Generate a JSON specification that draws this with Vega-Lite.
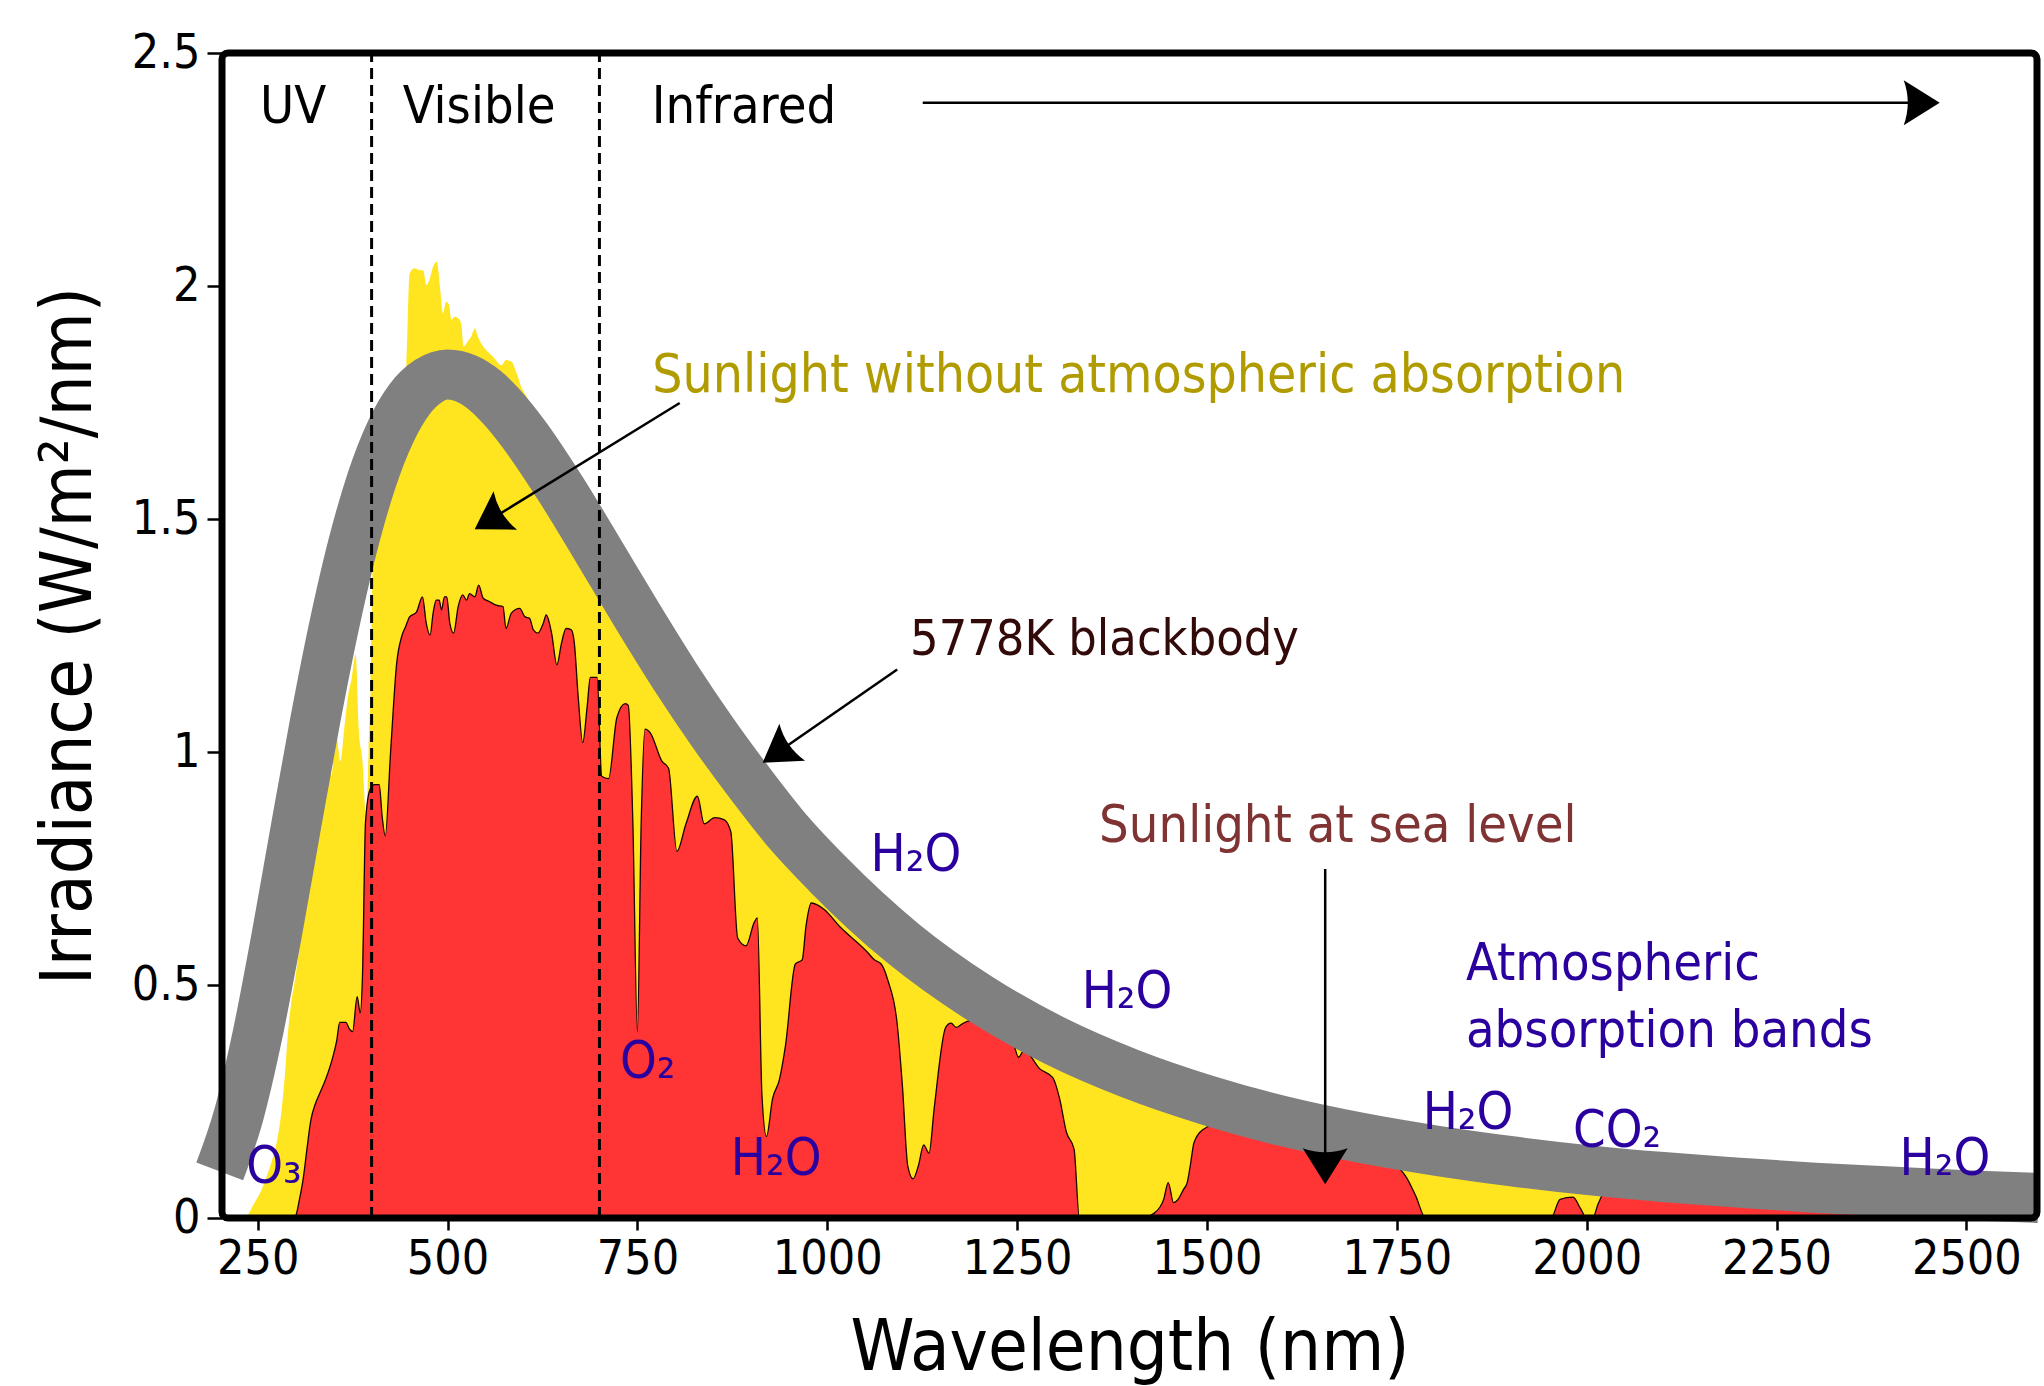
{
  "$schema": "https://vega.github.io/schema/vega-lite/v6.json",
  "width": 1815,
  "height": 1165,
  "autosize": "none",
  "padding": {"left": 222, "top": 53, "right": 7, "bottom": 168},
  "background": "white",
  "config": {"view": {"stroke": null}, "font": "DejaVu Sans Condensed"},
  "datasets": {
    "toa": [
      {"wavelength": 235, "irradiance": 0}, {"wavelength": 245, "irradiance": 0.03}, {"wavelength": 255, "irradiance": 0.06},
      {"wavelength": 262, "irradiance": 0.09}, {"wavelength": 270, "irradiance": 0.13}, {"wavelength": 276, "irradiance": 0.17},
      {"wavelength": 281, "irradiance": 0.225}, {"wavelength": 286, "irradiance": 0.31}, {"wavelength": 290, "irradiance": 0.4},
      {"wavelength": 294, "irradiance": 0.46}, {"wavelength": 299, "irradiance": 0.51}, {"wavelength": 305, "irradiance": 0.58},
      {"wavelength": 312, "irradiance": 0.66}, {"wavelength": 318, "irradiance": 0.72}, {"wavelength": 324, "irradiance": 0.78},
      {"wavelength": 330, "irradiance": 0.97}, {"wavelength": 335, "irradiance": 0.92}, {"wavelength": 341, "irradiance": 1.0},
      {"wavelength": 347, "irradiance": 0.95}, {"wavelength": 353, "irradiance": 1.04}, {"wavelength": 359, "irradiance": 0.98},
      {"wavelength": 364, "irradiance": 1.05}, {"wavelength": 369, "irradiance": 1.12}, {"wavelength": 374, "irradiance": 1.16},
      {"wavelength": 379, "irradiance": 1.21}, {"wavelength": 383, "irradiance": 1.05}, {"wavelength": 388, "irradiance": 0.98},
      {"wavelength": 393, "irradiance": 0.86}, {"wavelength": 396, "irradiance": 1.0}, {"wavelength": 399, "irradiance": 1.15},
      {"wavelength": 403, "irradiance": 1.52}, {"wavelength": 410, "irradiance": 1.68}, {"wavelength": 418, "irradiance": 1.73},
      {"wavelength": 425, "irradiance": 1.68}, {"wavelength": 431, "irradiance": 1.6}, {"wavelength": 437, "irradiance": 1.75},
      {"wavelength": 442, "irradiance": 1.8}, {"wavelength": 446, "irradiance": 1.834}, {"wavelength": 450, "irradiance": 2.027},
      {"wavelength": 457, "irradiance": 2.038}, {"wavelength": 463, "irradiance": 2.034}, {"wavelength": 468, "irradiance": 2.034},
      {"wavelength": 472, "irradiance": 2.002}, {"wavelength": 476, "irradiance": 2.013}, {"wavelength": 481, "irradiance": 2.042},
      {"wavelength": 486, "irradiance": 2.052}, {"wavelength": 490, "irradiance": 1.999}, {"wavelength": 494, "irradiance": 1.941},
      {"wavelength": 498, "irradiance": 1.966}, {"wavelength": 502, "irradiance": 1.959}, {"wavelength": 505, "irradiance": 1.927},
      {"wavelength": 509, "irradiance": 1.934}, {"wavelength": 514, "irradiance": 1.931}, {"wavelength": 518, "irradiance": 1.92},
      {"wavelength": 521, "irradiance": 1.87}, {"wavelength": 526, "irradiance": 1.88}, {"wavelength": 531, "irradiance": 1.891},
      {"wavelength": 536, "irradiance": 1.909}, {"wavelength": 540, "irradiance": 1.891}, {"wavelength": 547, "irradiance": 1.87},
      {"wavelength": 553, "irradiance": 1.859}, {"wavelength": 560, "irradiance": 1.848}, {"wavelength": 571, "irradiance": 1.83},
      {"wavelength": 577, "irradiance": 1.841}, {"wavelength": 584, "irradiance": 1.838}, {"wavelength": 591, "irradiance": 1.813},
      {"wavelength": 597, "irradiance": 1.784}, {"wavelength": 604, "irradiance": 1.763}, {"wavelength": 625, "irradiance": 1.68},
      {"wavelength": 650, "irradiance": 1.58}, {"wavelength": 675, "irradiance": 1.5}, {"wavelength": 700, "irradiance": 1.42},
      {"wavelength": 725, "irradiance": 1.35}, {"wavelength": 750, "irradiance": 1.28}, {"wavelength": 800, "irradiance": 1.14},
      {"wavelength": 850, "irradiance": 1.02}, {"wavelength": 900, "irradiance": 0.91}, {"wavelength": 950, "irradiance": 0.82},
      {"wavelength": 1000, "irradiance": 0.74}, {"wavelength": 1050, "irradiance": 0.66}, {"wavelength": 1100, "irradiance": 0.6},
      {"wavelength": 1200, "irradiance": 0.48}, {"wavelength": 1300, "irradiance": 0.39}, {"wavelength": 1400, "irradiance": 0.32},
      {"wavelength": 1500, "irradiance": 0.26}, {"wavelength": 1600, "irradiance": 0.21}, {"wavelength": 1700, "irradiance": 0.175},
      {"wavelength": 1800, "irradiance": 0.145}, {"wavelength": 1900, "irradiance": 0.122}, {"wavelength": 2000, "irradiance": 0.104},
      {"wavelength": 2100, "irradiance": 0.088}, {"wavelength": 2200, "irradiance": 0.075}, {"wavelength": 2300, "irradiance": 0.065},
      {"wavelength": 2400, "irradiance": 0.057}, {"wavelength": 2500, "irradiance": 0.049}, {"wavelength": 2593, "irradiance": 0.044}
    ],
    "sea": [
      {"wavelength": 295, "irradiance": 0}, {"wavelength": 300, "irradiance": 0.005}, {"wavelength": 305, "irradiance": 0.04},
      {"wavelength": 310, "irradiance": 0.085}, {"wavelength": 315, "irradiance": 0.15}, {"wavelength": 320, "irradiance": 0.21},
      {"wavelength": 326, "irradiance": 0.245}, {"wavelength": 331, "irradiance": 0.265}, {"wavelength": 340, "irradiance": 0.3},
      {"wavelength": 348, "irradiance": 0.34}, {"wavelength": 354, "irradiance": 0.38}, {"wavelength": 358, "irradiance": 0.42},
      {"wavelength": 366, "irradiance": 0.42}, {"wavelength": 371, "irradiance": 0.405}, {"wavelength": 375, "irradiance": 0.4},
      {"wavelength": 381, "irradiance": 0.475}, {"wavelength": 385, "irradiance": 0.44}, {"wavelength": 388, "irradiance": 0.52},
      {"wavelength": 392, "irradiance": 0.85}, {"wavelength": 398, "irradiance": 0.92}, {"wavelength": 404, "irradiance": 0.93},
      {"wavelength": 410, "irradiance": 0.93}, {"wavelength": 414, "irradiance": 0.86}, {"wavelength": 418, "irradiance": 0.82},
      {"wavelength": 425, "irradiance": 1.0}, {"wavelength": 433, "irradiance": 1.19}, {"wavelength": 440, "irradiance": 1.25},
      {"wavelength": 445, "irradiance": 1.27}, {"wavelength": 450, "irradiance": 1.29}, {"wavelength": 459, "irradiance": 1.3},
      {"wavelength": 467, "irradiance": 1.333}, {"wavelength": 472, "irradiance": 1.276}, {"wavelength": 477, "irradiance": 1.251},
      {"wavelength": 481, "irradiance": 1.298}, {"wavelength": 485, "irradiance": 1.326}, {"wavelength": 489, "irradiance": 1.326},
      {"wavelength": 492, "irradiance": 1.305}, {"wavelength": 496, "irradiance": 1.333}, {"wavelength": 499, "irradiance": 1.333},
      {"wavelength": 503, "irradiance": 1.276}, {"wavelength": 508, "irradiance": 1.255}, {"wavelength": 514, "irradiance": 1.312},
      {"wavelength": 520, "irradiance": 1.337}, {"wavelength": 525, "irradiance": 1.326}, {"wavelength": 529, "irradiance": 1.34},
      {"wavelength": 536, "irradiance": 1.333}, {"wavelength": 541, "irradiance": 1.358}, {"wavelength": 547, "irradiance": 1.33},
      {"wavelength": 555, "irradiance": 1.323}, {"wavelength": 564, "irradiance": 1.315}, {"wavelength": 573, "irradiance": 1.312},
      {"wavelength": 577, "irradiance": 1.265}, {"wavelength": 584, "irradiance": 1.298}, {"wavelength": 595, "irradiance": 1.308},
      {"wavelength": 602, "irradiance": 1.29}, {"wavelength": 608, "irradiance": 1.287}, {"wavelength": 613, "irradiance": 1.262},
      {"wavelength": 619, "irradiance": 1.255}, {"wavelength": 626, "irradiance": 1.276}, {"wavelength": 630, "irradiance": 1.294},
      {"wavelength": 637, "irradiance": 1.255}, {"wavelength": 644, "irradiance": 1.187}, {"wavelength": 650, "irradiance": 1.233},
      {"wavelength": 656, "irradiance": 1.265}, {"wavelength": 663, "irradiance": 1.262}, {"wavelength": 667, "irradiance": 1.233},
      {"wavelength": 672, "irradiance": 1.119}, {"wavelength": 678, "irradiance": 1.02}, {"wavelength": 684, "irradiance": 1.1},
      {"wavelength": 688, "irradiance": 1.16}, {"wavelength": 697, "irradiance": 1.16}, {"wavelength": 703, "irradiance": 0.948},
      {"wavelength": 712, "irradiance": 0.943}, {"wavelength": 723, "irradiance": 1.074}, {"wavelength": 734, "irradiance": 1.104},
      {"wavelength": 738, "irradiance": 1.1}, {"wavelength": 744, "irradiance": 0.85}, {"wavelength": 750, "irradiance": 0.4},
      {"wavelength": 755, "irradiance": 0.85}, {"wavelength": 760, "irradiance": 1.049}, {"wavelength": 767, "irradiance": 1.041},
      {"wavelength": 782, "irradiance": 0.981}, {"wavelength": 791, "irradiance": 0.965}, {"wavelength": 802, "irradiance": 0.787},
      {"wavelength": 814, "irradiance": 0.846}, {"wavelength": 829, "irradiance": 0.905}, {"wavelength": 838, "irradiance": 0.846},
      {"wavelength": 852, "irradiance": 0.859}, {"wavelength": 864, "irradiance": 0.855}, {"wavelength": 873, "irradiance": 0.829},
      {"wavelength": 882, "irradiance": 0.601}, {"wavelength": 893, "irradiance": 0.584}, {"wavelength": 904, "irradiance": 0.635},
      {"wavelength": 908, "irradiance": 0.644}, {"wavelength": 914, "irradiance": 0.264}, {"wavelength": 920, "irradiance": 0.175},
      {"wavelength": 928, "irradiance": 0.256}, {"wavelength": 937, "irradiance": 0.297}, {"wavelength": 945, "irradiance": 0.37},
      {"wavelength": 958, "irradiance": 0.545}, {"wavelength": 967, "irradiance": 0.554}, {"wavelength": 972, "irradiance": 0.626},
      {"wavelength": 979, "irradiance": 0.676}, {"wavelength": 996, "irradiance": 0.662}, {"wavelength": 1016, "irradiance": 0.626},
      {"wavelength": 1052, "irradiance": 0.572}, {"wavelength": 1062, "irradiance": 0.554}, {"wavelength": 1071, "irradiance": 0.545},
      {"wavelength": 1080, "irradiance": 0.509}, {"wavelength": 1092, "irradiance": 0.418}, {"wavelength": 1099, "irradiance": 0.283},
      {"wavelength": 1106, "irradiance": 0.112}, {"wavelength": 1113, "irradiance": 0.084}, {"wavelength": 1120, "irradiance": 0.112},
      {"wavelength": 1127, "irradiance": 0.157}, {"wavelength": 1134, "irradiance": 0.139}, {"wavelength": 1141, "irradiance": 0.238},
      {"wavelength": 1156, "irradiance": 0.409}, {"wavelength": 1163, "irradiance": 0.418}, {"wavelength": 1170, "irradiance": 0.409},
      {"wavelength": 1179, "irradiance": 0.418}, {"wavelength": 1200, "irradiance": 0.427}, {"wavelength": 1230, "irradiance": 0.4},
      {"wavelength": 1245, "irradiance": 0.375}, {"wavelength": 1252, "irradiance": 0.345}, {"wavelength": 1259, "irradiance": 0.36},
      {"wavelength": 1280, "irradiance": 0.32}, {"wavelength": 1297, "irradiance": 0.301}, {"wavelength": 1306, "irradiance": 0.256},
      {"wavelength": 1315, "irradiance": 0.184}, {"wavelength": 1325, "irradiance": 0.148}, {"wavelength": 1332, "irradiance": 0},
      {"wavelength": 1414, "irradiance": 0}, {"wavelength": 1431, "irradiance": 0.011}, {"wavelength": 1443, "irradiance": 0.04},
      {"wavelength": 1449, "irradiance": 0.076}, {"wavelength": 1456, "irradiance": 0.033}, {"wavelength": 1462, "irradiance": 0.04},
      {"wavelength": 1469, "irradiance": 0.061}, {"wavelength": 1474, "irradiance": 0.076}, {"wavelength": 1478, "irradiance": 0.112},
      {"wavelength": 1483, "irradiance": 0.162}, {"wavelength": 1495, "irradiance": 0.19}, {"wavelength": 1520, "irradiance": 0.205},
      {"wavelength": 1560, "irradiance": 0.21}, {"wavelength": 1600, "irradiance": 0.2}, {"wavelength": 1650, "irradiance": 0.18},
      {"wavelength": 1700, "irradiance": 0.16}, {"wavelength": 1740, "irradiance": 0.125}, {"wavelength": 1763, "irradiance": 0.086},
      {"wavelength": 1775, "irradiance": 0.047}, {"wavelength": 1788, "irradiance": 0}, {"wavelength": 1953, "irradiance": 0},
      {"wavelength": 1965, "irradiance": 0.04}, {"wavelength": 1982, "irradiance": 0.045}, {"wavelength": 1992, "irradiance": 0.02},
      {"wavelength": 2000, "irradiance": 0}, {"wavelength": 2008, "irradiance": 0}, {"wavelength": 2015, "irradiance": 0.03},
      {"wavelength": 2025, "irradiance": 0.06}, {"wavelength": 2050, "irradiance": 0.075}, {"wavelength": 2100, "irradiance": 0.078},
      {"wavelength": 2200, "irradiance": 0.07}, {"wavelength": 2300, "irradiance": 0.06}, {"wavelength": 2350, "irradiance": 0.045},
      {"wavelength": 2400, "irradiance": 0.03}, {"wavelength": 2450, "irradiance": 0.015}, {"wavelength": 2500, "irradiance": 0},
      {"wavelength": 2593, "irradiance": 0}
    ],
    "blackbody": [
      {"wavelength": 200, "irradiance": 0.1}, {"wavelength": 225, "irradiance": 0.221}, {"wavelength": 250, "irradiance": 0.395},
      {"wavelength": 275, "irradiance": 0.607}, {"wavelength": 300, "irradiance": 0.836}, {"wavelength": 325, "irradiance": 1.061},
      {"wavelength": 350, "irradiance": 1.266}, {"wavelength": 375, "irradiance": 1.442}, {"wavelength": 400, "irradiance": 1.583},
      {"wavelength": 425, "irradiance": 1.687}, {"wavelength": 450, "irradiance": 1.757}, {"wavelength": 475, "irradiance": 1.796},
      {"wavelength": 500, "irradiance": 1.81}, {"wavelength": 525, "irradiance": 1.801}, {"wavelength": 550, "irradiance": 1.775},
      {"wavelength": 575, "irradiance": 1.734}, {"wavelength": 600, "irradiance": 1.683}, {"wavelength": 650, "irradiance": 1.562},
      {"wavelength": 700, "irradiance": 1.428}, {"wavelength": 750, "irradiance": 1.292}, {"wavelength": 800, "irradiance": 1.161},
      {"wavelength": 850, "irradiance": 1.04}, {"wavelength": 900, "irradiance": 0.929}, {"wavelength": 950, "irradiance": 0.826},
      {"wavelength": 1000, "irradiance": 0.739}, {"wavelength": 1100, "irradiance": 0.589}, {"wavelength": 1200, "irradiance": 0.472},
      {"wavelength": 1300, "irradiance": 0.38}, {"wavelength": 1400, "irradiance": 0.309}, {"wavelength": 1500, "irradiance": 0.253},
      {"wavelength": 1600, "irradiance": 0.208}, {"wavelength": 1700, "irradiance": 0.173}, {"wavelength": 1800, "irradiance": 0.145},
      {"wavelength": 1900, "irradiance": 0.122}, {"wavelength": 2000, "irradiance": 0.103}, {"wavelength": 2100, "irradiance": 0.088},
      {"wavelength": 2200, "irradiance": 0.076}, {"wavelength": 2300, "irradiance": 0.065}, {"wavelength": 2400, "irradiance": 0.057},
      {"wavelength": 2500, "irradiance": 0.049}, {"wavelength": 2595, "irradiance": 0.043}
    ],
    "bounds": [{"wavelength": 400}, {"wavelength": 700}],
    "regions": [
      {"text": "UV", "wavelength": 253, "irradiance": 2.35},
      {"text": "Visible", "wavelength": 441, "irradiance": 2.35},
      {"text": "Infrared", "wavelength": 769, "irradiance": 2.35}
    ],
    "absorbers": [
      {"text": "O₃", "wavelength": 235, "irradiance": 0.075},
      {"text": "O₂", "wavelength": 727, "irradiance": 0.3},
      {"text": "H₂O", "wavelength": 873, "irradiance": 0.093},
      {"text": "H₂O", "wavelength": 1057, "irradiance": 0.744},
      {"text": "H₂O", "wavelength": 1335, "irradiance": 0.451},
      {"text": "H₂O", "wavelength": 1784, "irradiance": 0.191},
      {"text": "CO₂", "wavelength": 1982, "irradiance": 0.153},
      {"text": "H₂O", "wavelength": 2412, "irradiance": 0.092},
      {"text": "Atmospheric", "wavelength": 1841, "irradiance": 0.511},
      {"text": "absorption bands", "wavelength": 1841, "irradiance": 0.368}
    ],
    "arrows": [
      {"target": "toa", "wavelength": 805.7, "irradiance": 1.749, "wavelength_end": 555.9, "irradiance_end": 1.498},
      {"target": "blackbody", "wavelength": 1092.1, "irradiance": 1.177, "wavelength_end": 934.4, "irradiance_end": 0.999},
      {"target": "sea", "wavelength": 1655.7, "irradiance": 0.749, "wavelength_end": 1655.7, "irradiance_end": 0.111},
      {"target": "infrared", "wavelength": 1125.7, "irradiance": 2.393, "wavelength_end": 2441.2, "irradiance_end": 2.393}
    ]
  },
  "layer": [
    {
      "data": {"name": "toa"},
      "mark": {"type": "area", "color": "#FFE51F", "interpolate": "monotone"},
      "encoding": {
        "x": {
          "field": "wavelength", "type": "quantitative",
          "scale": {"domain": [203, 2593], "nice": false, "zero": false},
          "axis": {
            "values": [250, 500, 750, 1000, 1250, 1500, 1750, 2000, 2250, 2500], "format": "d",
            "title": "Wavelength (nm)", "titleFont": "DejaVu Sans Condensed", "titleFontSize": 72, "titleFontWeight": "normal",
            "titleColor": "#000", "titlePadding": 29,
            "labelFont": "DejaVu Sans Condensed", "labelFontSize": 48, "labelColor": "#000", "labelPadding": 5,
            "labelFlush": false, "labelOverlap": false,
            "tickColor": "#000", "tickWidth": 2.5, "tickSize": 12, "domain": false, "grid": false
          }
        },
        "y": {
          "field": "irradiance", "type": "quantitative", "stack": null,
          "scale": {"domain": [0, 2.5], "nice": false},
          "axis": {
            "values": [0, 0.5, 1, 1.5, 2, 2.5], "format": "~g",
            "title": "Irradiance (W/m²/nm)", "titleFont": "DejaVu Sans Condensed", "titleFontSize": 72, "titleFontWeight": "normal",
            "titleColor": "#000", "titlePadding": 26,
            "labelFont": "DejaVu Sans Condensed", "labelFontSize": 48, "labelColor": "#000", "labelPadding": 7,
            "labelFlush": false, "labelOverlap": false,
            "tickColor": "#000", "tickWidth": 2.5, "tickSize": 15, "domain": false, "grid": false
          }
        }
      }
    },
    {
      "data": {"name": "sea"},
      "mark": {"type": "area", "color": "#FF3535", "stroke": "#1a0000", "strokeWidth": 1.3, "interpolate": "monotone"},
      "encoding": {
        "x": {"field": "wavelength", "type": "quantitative"},
        "y": {"field": "irradiance", "type": "quantitative", "stack": null}
      }
    },
    {
      "data": {"name": "blackbody"},
      "mark": {"type": "line", "color": "#808080", "strokeWidth": 50, "strokeCap": "butt", "strokeJoin": "round", "interpolate": "monotone"},
      "encoding": {
        "x": {"field": "wavelength", "type": "quantitative"},
        "y": {"field": "irradiance", "type": "quantitative"}
      }
    },
    {
      "data": {"name": "bounds"},
      "mark": {"type": "rule", "color": "#000", "strokeWidth": 3, "strokeDash": [11, 6]},
      "encoding": {
        "x": {"field": "wavelength", "type": "quantitative"},
        "y": {"datum": 0, "type": "quantitative"},
        "y2": {"datum": 2.5}
      }
    },
    {
      "data": {"values": [{"part": "frame"}]},
      "mark": {"type": "rect", "filled": false, "stroke": "#000", "strokeWidth": 7, "cornerRadius": 6},
      "encoding": {
        "x": {"datum": 203, "type": "quantitative"},
        "x2": {"datum": 2593},
        "y": {"datum": 0, "type": "quantitative"},
        "y2": {"datum": 2.5}
      }
    },
    {
      "data": {"name": "arrows"},
      "mark": {"type": "rule", "color": "#000", "strokeWidth": 2.5},
      "encoding": {
        "x": {"field": "wavelength", "type": "quantitative"},
        "y": {"field": "irradiance", "type": "quantitative"},
        "x2": {"field": "wavelength_end"},
        "y2": {"field": "irradiance_end"}
      }
    },
    {
      "data": {"name": "arrows"},
      "transform": [{"filter": "datum.target === 'toa'"}],
      "mark": {"type": "point", "shape": "M1,0L-1,-1.25Q-0.55,0,-1,1.25Z", "size": 1296, "filled": true, "color": "#000", "opacity": 1, "angle": 148.4},
      "encoding": {
        "x": {"field": "wavelength_end", "type": "quantitative"},
        "y": {"field": "irradiance_end", "type": "quantitative"}
      }
    },
    {
      "data": {"name": "arrows"},
      "transform": [{"filter": "datum.target === 'blackbody'"}],
      "mark": {"type": "point", "shape": "M1,0L-1,-1.25Q-0.55,0,-1,1.25Z", "size": 1296, "filled": true, "color": "#000", "opacity": 1, "angle": 145.2},
      "encoding": {
        "x": {"field": "wavelength_end", "type": "quantitative"},
        "y": {"field": "irradiance_end", "type": "quantitative"}
      }
    },
    {
      "data": {"name": "arrows"},
      "transform": [{"filter": "datum.target === 'sea'"}],
      "mark": {"type": "point", "shape": "M1,0L-1,-1.25Q-0.55,0,-1,1.25Z", "size": 1296, "filled": true, "color": "#000", "opacity": 1, "angle": 90},
      "encoding": {
        "x": {"field": "wavelength_end", "type": "quantitative"},
        "y": {"field": "irradiance_end", "type": "quantitative"}
      }
    },
    {
      "data": {"name": "arrows"},
      "transform": [{"filter": "datum.target === 'infrared'"}],
      "mark": {"type": "point", "shape": "M1,0L-1,-1.25Q-0.55,0,-1,1.25Z", "size": 1296, "filled": true, "color": "#000", "opacity": 1, "angle": 0},
      "encoding": {
        "x": {"field": "wavelength_end", "type": "quantitative"},
        "y": {"field": "irradiance_end", "type": "quantitative"}
      }
    },
    {
      "data": {"name": "regions"},
      "mark": {"type": "text", "align": "left", "baseline": "alphabetic", "font": "DejaVu Sans Condensed", "fontSize": 52, "color": "#000"},
      "encoding": {
        "x": {"field": "wavelength", "type": "quantitative"},
        "y": {"field": "irradiance", "type": "quantitative"},
        "text": {"field": "text"}
      }
    },
    {
      "data": {"name": "absorbers"},
      "mark": {"type": "text", "align": "left", "baseline": "alphabetic", "font": "DejaVu Sans Condensed", "fontSize": 52, "color": "#2A009E"},
      "encoding": {
        "x": {"field": "wavelength", "type": "quantitative"},
        "y": {"field": "irradiance", "type": "quantitative"},
        "text": {"field": "text"}
      }
    },
    {
      "data": {"values": [{"text": "Sunlight without atmospheric absorption", "wavelength": 769.5, "irradiance": 1.773}]},
      "mark": {"type": "text", "align": "left", "baseline": "alphabetic", "font": "DejaVu Sans Condensed", "fontSize": 53, "color": "#B09C00"},
      "encoding": {
        "x": {"field": "wavelength", "type": "quantitative"},
        "y": {"field": "irradiance", "type": "quantitative"},
        "text": {"field": "text"}
      }
    },
    {
      "data": {"values": [{"text": "5778K blackbody", "wavelength": 1109, "irradiance": 1.208}]},
      "mark": {"type": "text", "align": "left", "baseline": "alphabetic", "font": "DejaVu Sans Condensed", "fontSize": 50, "color": "#330A0A"},
      "encoding": {
        "x": {"field": "wavelength", "type": "quantitative"},
        "y": {"field": "irradiance", "type": "quantitative"},
        "text": {"field": "text"}
      }
    },
    {
      "data": {"values": [{"text": "Sunlight at sea level", "wavelength": 1358, "irradiance": 0.807}]},
      "mark": {"type": "text", "align": "left", "baseline": "alphabetic", "font": "DejaVu Sans Condensed", "fontSize": 52, "color": "#803333"},
      "encoding": {
        "x": {"field": "wavelength", "type": "quantitative"},
        "y": {"field": "irradiance", "type": "quantitative"},
        "text": {"field": "text"}
      }
    }
  ]
}
